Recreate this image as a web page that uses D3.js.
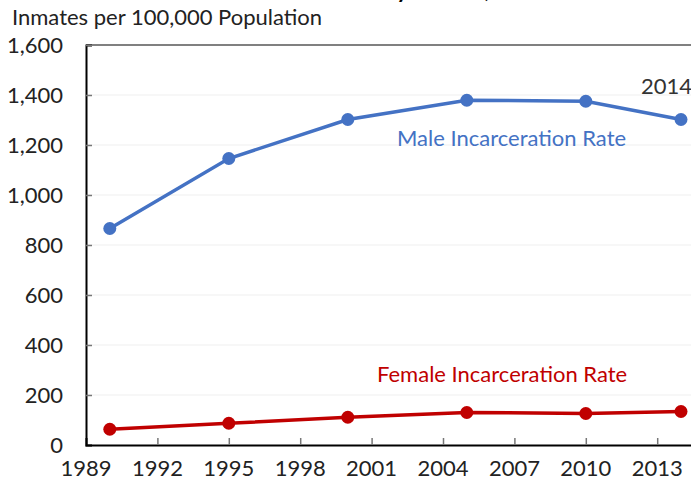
<!DOCTYPE html>
<html>
<head>
<meta charset="utf-8">
<script src="https://cdn.jsdelivr.net/npm/d3@7"></script>
<style>
  body { margin: 0; background: #fff; overflow: hidden; }
  svg { display: block; }
  svg text { font-family: Lato, "Open Sans", sans-serif; }
</style>
</head>
<body>
<div id="chart"></div>
<script>
// data
let years = [1990, 1995, 2000, 2005, 2010, 2014];
let maleRate = [866, 1146, 1302, 1379, 1375, 1302];
let femaleRate = [63, 87, 111, 130, 126, 134];
let xTicks = [1989, 1992, 1995, 1998, 2001, 2004, 2007, 2010, 2013];
let yTicks = [0, 200, 400, 600, 800, 1000, 1200, 1400, 1600];

const W = 691, H = 486;
const BLUE = "#4472C4", RED = "#C00000";
const FS = 22;

let svg = d3.select("#chart").append("svg")
    .attr("width", W)
    .attr("height", H);

// x runs past the right edge, the picture is cropped there
let x = d3.scaleLinear().domain([1989, 2016]).range([86, 86 + 27 * 23.8]);
let y = d3.scaleLinear().domain([0, 1600]).range([445, 45]);

// title, mostly above the top edge
svg.append("text")
    .attr("x", 400).attr("y", -2)
    .attr("text-anchor", "middle")
    .attr("font-size", 22).attr("font-weight", "bold")
    .attr("fill", "#000")
    .text("Incarceration Rates by Gender, 1990–2014");

svg.append("text")
    .attr("x", 12).attr("y", 25)
    .attr("font-size", FS).attr("fill", "#222")
    .text("Inmates per 100,000 Population");

// faint gridlines
svg.append("g").selectAll("line")
    .data(yTicks.filter(d => d > 0 && d < 1600))
    .join("line")
    .attr("x1", x(1989)).attr("x2", W)
    .attr("y1", d => y(d)).attr("y2", d => y(d))
    .attr("stroke", "#efefef").attr("stroke-width", 1);

// top border line
svg.append("line")
    .attr("x1", x(1989)).attr("x2", W)
    .attr("y1", y(1600)).attr("y2", y(1600))
    .attr("stroke", "#808080").attr("stroke-width", 2);

// y axis
let yAxis = svg.append("g")
    .attr("transform", "translate(" + x(1989) + ",0)")
    .call(d3.axisRight(y).tickValues(yTicks).tickSize(6).tickFormat(""));
yAxis.select(".domain").attr("stroke", "#000").attr("stroke-width", 2);
yAxis.selectAll(".tick line").attr("stroke", "#777").attr("stroke-width", 1.5);

svg.append("g").selectAll("text")
    .data(yTicks)
    .join("text")
    .attr("x", 63).attr("y", d => y(d) + 7.5)
    .attr("text-anchor", "end")
    .attr("font-size", FS).attr("fill", "#222")
    .text(d => d3.format(",")(d));

// x axis
let xAxis = svg.append("g")
    .attr("transform", "translate(0," + y(0) + ")")
    .call(d3.axisTop(x).tickValues(xTicks.filter(d => d > 1989)).tickSize(7).tickFormat(""));
xAxis.select(".domain").attr("stroke", "#000").attr("stroke-width", 2);
xAxis.selectAll(".tick line").attr("stroke", "#777").attr("stroke-width", 1.5);

svg.append("g").selectAll("text")
    .data(xTicks)
    .join("text")
    .attr("x", d => x(d)).attr("y", 476)
    .attr("text-anchor", "middle")
    .attr("font-size", FS).attr("fill", "#222")
    .text(d => d);

function drawSeries(vals, color) {
    let pts = years.map((yr, i) => [yr, vals[i]]);
    let line = d3.line().x(d => x(d[0])).y(d => y(d[1]));
    svg.append("path")
        .datum(pts)
        .attr("d", line)
        .attr("fill", "none")
        .attr("stroke", color)
        .attr("stroke-width", 3.5);
    svg.append("g").selectAll("circle")
        .data(pts)
        .join("circle")
        .attr("cx", d => x(d[0])).attr("cy", d => y(d[1]))
        .attr("r", 6.5)
        .attr("fill", color);
}

drawSeries(maleRate, BLUE);
drawSeries(femaleRate, RED);

// series labels
svg.append("text")
    .attr("x", 397).attr("y", 146)
    .attr("font-size", FS).attr("fill", BLUE)
    .text("Male Incarceration Rate");

svg.append("text")
    .attr("x", 377).attr("y", 382)
    .attr("font-size", FS).attr("fill", RED)
    .text("Female Incarceration Rate");

svg.append("text")
    .attr("x", 641).attr("y", 94)
    .attr("font-size", FS).attr("fill", "#333")
    .text("2014");
</script>
</body>
</html>
